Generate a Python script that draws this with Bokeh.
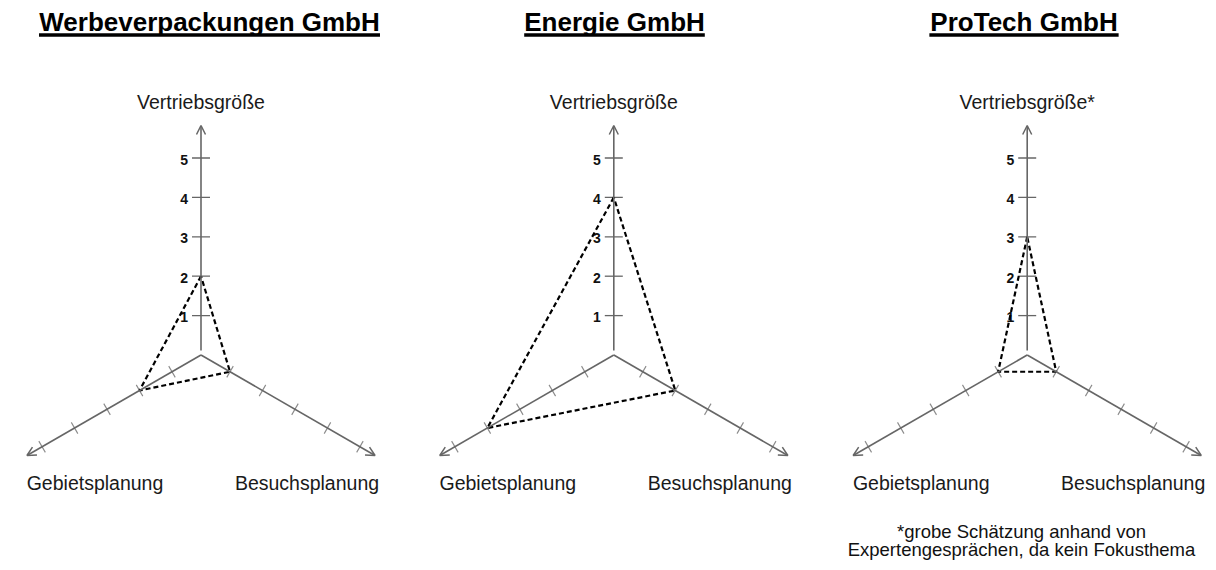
import math
from bokeh.plotting import figure
from bokeh.models import Range1d, Arrow, OpenHead
from bokeh.core.properties import value
from bokeh.embed import file_html
from bokeh.resources import INLINE

# ---------------- data ----------------
companies = ["Werbeverpackungen GmbH", "Energie GmbH", "ProTech GmbH"]
top_labels = ["Vertriebsgröße", "Vertriebsgröße", "Vertriebsgröße*"]
left_label = "Gebietsplanung"
right_label = "Besuchsplanung"
vertriebsgroesse = [2, 4, 3]
gebietsplanung = [2, 4, 1]
besuchsplanung = [1, 2, 1]
scale_ticks = [1, 2, 3, 4, 5]
tick_labels = ["1", "2", "3", "4", "5"]
footnote = ["*grobe Schätzung anhand von", "Expertengesprächen, da kein Fokusthema"]

# ---------------- layout / style ----------------
W, H = 1210, 566
centers_x = [200.5, 613.3, 1026.7]
center_y = 354.5
title_x = [209, 614, 1023.5]
title_em = [13.114, 6.946, 7.279]   # advance width of each title in em (Liberation Sans Bold)
TITLE_PX = 26
UNIT_V = 39.4         # px per unit on the vertical axis
UNIT_D = 37.5         # px per unit on the lower axes
D_OFF = -4.0
ANG = math.radians(30)
LOW_LEN = 201
V_START = 350
V_END = 125
AX_COL = "#666666"
TICK_COL = "#8a8a8a"
FONT = "Liberation Sans"
FOOT_PX = 18.5

def mid(baseline, size):
    # vertical middle of a text line whose baseline is given
    return baseline - 0.33 * size

p = figure(width=W, height=H, x_range=Range1d(0, W), y_range=Range1d(H, 0),
           output_backend="svg", toolbar_location=None, min_border=0,
           x_axis_type=None, y_axis_type=None)
p.grid.visible = False
p.outline_line_color = None
p.background_fill_color = "white"
p.border_fill_color = "white"

def low_point(cx, side, d):
    # side -1 = left (Gebietsplanung), +1 = right (Besuchsplanung)
    return cx + side * math.cos(ANG) * d, center_y + math.sin(ANG) * d

vt_x0, vt_x1, vt_y = [], [], []
vl_x, vl_y, vl_t = [], [], []
lt_xs, lt_ys = [], []
poly_xs, poly_ys = [], []
lab_x, lab_y, lab_t = [], [], []

for i, cx in enumerate(centers_x):
    # vertical axis
    p.add_layout(Arrow(end=OpenHead(size=9, line_color=AX_COL, line_width=1.5),
                       x_start=cx, y_start=V_START, x_end=cx, y_end=V_END,
                       line_color=AX_COL, line_width=1.6))
    for side in (-1, 1):
        ex, ey = low_point(cx, side, LOW_LEN)
        p.add_layout(Arrow(end=OpenHead(size=9, line_color=AX_COL, line_width=1.5),
                           x_start=cx, y_start=center_y, x_end=ex, y_end=ey,
                           line_color=AX_COL, line_width=1.6))
        for t in scale_ticks:
            d = D_OFF + UNIT_D * t
            tx, ty = low_point(cx, side, d)
            nx, ny = math.sin(ANG) * side, -math.cos(ANG)
            lt_xs.append([tx - 6.5 * nx, tx + 6.5 * nx])
            lt_ys.append([ty - 6.5 * ny, ty + 6.5 * ny])
    for t, tl in zip(scale_ticks, tick_labels):
        y = center_y - UNIT_V * t
        vt_x0.append(cx - 9); vt_x1.append(cx + 9); vt_y.append(y)
        vl_x.append(cx - 13); vl_y.append(y + 1.5); vl_t.append(tl)

    # data polygon
    tx, ty = cx, center_y - UNIT_V * vertriebsgroesse[i]
    gx, gy = low_point(cx, -1, D_OFF + UNIT_D * gebietsplanung[i])
    bx, by = low_point(cx, 1, D_OFF + UNIT_D * besuchsplanung[i])
    poly_xs.append([tx, gx, bx, tx])
    poly_ys.append([ty, gy, by, ty])

    # axis labels
    lab_x += [cx, cx - 106, cx + 106]
    lab_y += [mid(108, 19.5), mid(489, 19.5), mid(489, 19.5)]
    lab_t += [top_labels[i], left_label, right_label]

# lower-axis ticks
p.multi_line(lt_xs, lt_ys, line_color=TICK_COL, line_width=1.1)
# vertical ticks
p.segment(x0=vt_x0, y0=vt_y, x1=vt_x1, y1=vt_y, line_color=AX_COL, line_width=1.3)
p.text(x=vl_x, y=vl_y, text=vl_t, text_align="right", text_baseline="middle",
       text_font=value(FONT), text_font_size=value("14px"), text_font_style="bold",
       text_color="#111111")

# data polygons
p.multi_line(poly_xs, poly_ys, line_color="black", line_width=2.2, line_dash="5 3")

# axis labels
p.text(x=lab_x, y=lab_y, text=lab_t, text_align="center", text_baseline="middle",
       text_font=value(FONT), text_font_size=value("19.5px"), text_color="#1a1a1a")

# titles with underline
p.text(x=title_x, y=[mid(30, TITLE_PX)] * 3, text=companies, text_align="center",
       text_baseline="middle", text_font=value(FONT), text_font_size=value(f"{TITLE_PX}px"),
       text_font_style="bold", text_color="black")
ul_x0 = [x - e * TITLE_PX / 2 for x, e in zip(title_x, title_em)]
ul_x1 = [x + e * TITLE_PX / 2 for x, e in zip(title_x, title_em)]
p.segment(x0=ul_x0, y0=[34.5] * 3, x1=ul_x1, y1=[34.5] * 3, line_color="black", line_width=3.5)

# footnote
p.text(x=[1021, 1021], y=[mid(537, FOOT_PX), mid(555, FOOT_PX)], text=footnote,
       text_align="center", text_baseline="middle", text_font=value(FONT),
       text_font_size=value(f"{FOOT_PX}px"), text_color="#111111")

open("out.html", "w").write(file_html(p, INLINE))
